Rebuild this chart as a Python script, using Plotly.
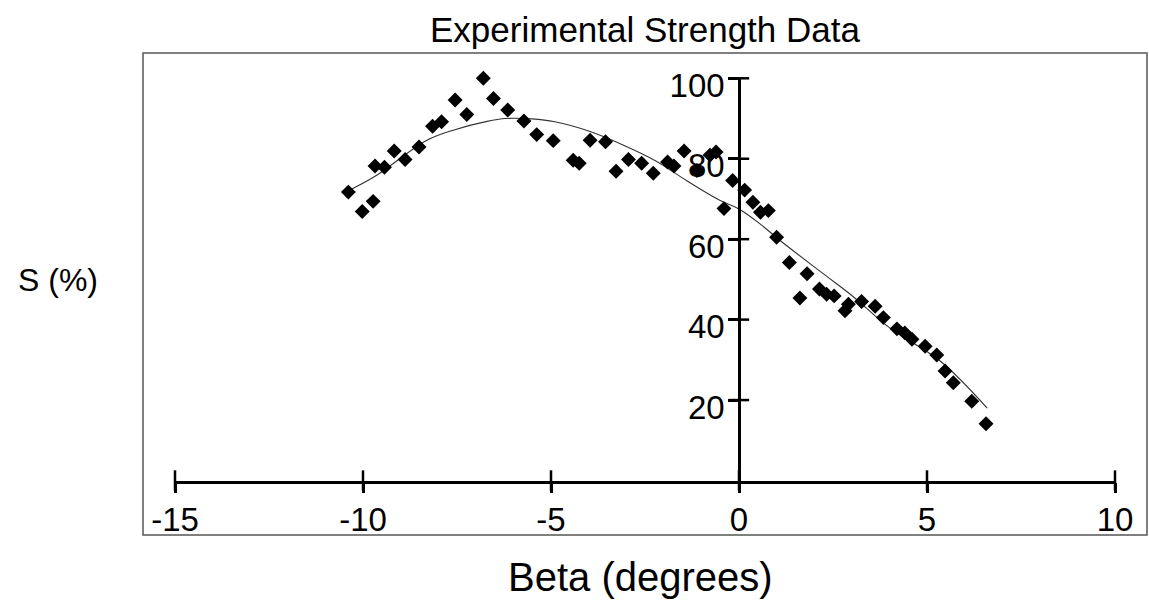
import plotly.graph_objects as go

# ---- data ----
beta = [-10.39, -10.02, -9.73, -9.68, -9.43, -9.17, -8.88, -8.51, -8.15, -7.91,
        -7.55, -7.24, -6.80, -6.53, -6.15, -5.72, -5.38, -4.94, -4.41, -4.25,
        -3.96, -3.55, -3.27, -2.94, -2.59, -2.28, -1.90, -1.73, -1.46, -1.12,
        -0.77, -0.61, -0.40, -0.17, 0.15, 0.37, 0.57, 0.78, 1.00, 1.34,
        1.81, 1.62, 2.14, 2.33, 2.53, 2.82, 2.91, 3.26, 3.62, 3.84,
        4.20, 4.41, 4.60, 4.95, 5.26, 5.48, 5.70, 6.19, 6.57]
strength = [71.7, 66.9, 69.4, 78.2, 77.9, 81.9, 79.8, 82.9, 88.1, 89.2,
            94.6, 91.0, 100.0, 95.0, 92.1, 89.4, 86.0, 84.5, 79.6, 78.9,
            84.6, 84.2, 76.9, 79.8, 78.9, 76.4, 79.2, 78.2, 81.9, 77.1,
            80.9, 81.7, 67.6, 74.6, 72.2, 69.2, 66.7, 67.1, 60.5, 54.2,
            51.4, 45.4, 47.6, 46.3, 45.9, 42.2, 43.8, 44.5, 43.3, 40.5,
            37.7, 36.7, 35.1, 33.4, 31.2, 27.2, 24.3, 19.7, 14.1]

fit_beta = [-10.4, -9.7, -8.3, -7.6, -6.7, -6.2, -5.5, -4.9, -4.0, -3.1,
            -2.2, -1.4, -0.5, 0.0, 0.6, 1.1, 2.3, 3.0, 4.0, 5.35, 6.6]
fit_s = [72.0, 75.5, 84.6, 87.1, 89.3, 90.0, 89.9, 89.2, 86.9, 83.5,
         79.4, 74.6, 69.6, 67.5, 63.5, 59.6, 51.0, 46.0, 38.0, 29.7, 18.0]

x_ticks = [-15, -10, -5, 0, 5, 10]
x_tick_labels = ["-15", "-10", "-5", "0", "5", "10"]
y_ticks = [20, 40, 60, 80, 100]
y_tick_labels = ["20", "40", "60", "80", "100"]
x_range = [-15, 10]
y_range = [0, 100]

title_text = "Experimental Strength Data"
x_title = "Beta (degrees)"
y_title = "S (%)"

# ---- layout geometry (pixels in a 1149x600 page) ----
W, H = 1149, 600
FONT = "Liberation Sans, Arial, sans-serif"
FS = 33

xd = [175 / W, 1115 / W]
yd = [1 - 480.5 / H, 1 - 78.3 / H]
# paper position of beta = 0 along the x domain
ypos = xd[0] + (0 - x_range[0]) / (x_range[1] - x_range[0]) * (xd[1] - xd[0])

fig = go.Figure()
fig.add_trace(go.Scatter(x=fit_beta, y=fit_s, mode="lines",
                         line=dict(color="#333333", width=1.1, shape="spline"),
                         cliponaxis=False, hoverinfo="skip"))
fig.add_trace(go.Scatter(x=beta, y=strength, mode="markers",
                         marker=dict(symbol="diamond", size=11.5, color="black",
                                     line=dict(width=0)),
                         cliponaxis=False))
# crossing tick marks (drawn on the axes at the tick values)
fig.add_trace(go.Scatter(x=x_ticks, y=[0] * len(x_ticks), mode="markers",
                         marker=dict(symbol="line-ns", size=14.5,
                                     line=dict(color="black", width=2.5)),
                         cliponaxis=False, hoverinfo="skip"))
fig.add_trace(go.Scatter(x=[0] * len(y_ticks), y=y_ticks, mode="markers",
                         marker=dict(symbol="line-ew", size=14.5,
                                     line=dict(color="black", width=2.5)),
                         cliponaxis=False, hoverinfo="skip"))

common_tick = dict(ticklen=10, tickwidth=2.5, tickcolor="black",
                   showgrid=False, zeroline=False, automargin=False)

fig.update_layout(
    width=W, height=H,
    margin=dict(l=0, r=0, t=0, b=0, pad=0, autoexpand=False),
    paper_bgcolor="white", plot_bgcolor="white",
    showlegend=False,
    font=dict(family=FONT, size=FS, color="black"),
    title=dict(text=title_text, x=645 / W, y=1 - 30 / H, xanchor="center",
               yanchor="middle", xref="paper", yref="paper", automargin=False,
               font=dict(family=FONT, size=35, color="black")),
    xaxis=dict(domain=xd, range=x_range, anchor="y", tickvals=x_ticks,
               ticktext=x_tick_labels, ticks="outside", showline=True,
               linecolor="black", linewidth=2.5, ticklabelstandoff=-2,
               tickfont=dict(family=FONT, size=FS, color="black"),
               **common_tick),
    yaxis=dict(domain=yd, range=y_range, anchor="free", position=ypos,
               tickvals=y_ticks, ticktext=y_tick_labels, ticks="outside",
               showline=True, linecolor="black", linewidth=2.5,
               ticklabelshift=7, ticklabelstandoff=-3,
               tickfont=dict(family=FONT, size=FS, color="black"),
               **common_tick),
    shapes=[dict(type="rect", xref="paper", yref="paper",
                 x0=143 / W, x1=1147 / W, y0=1 - 535 / H, y1=1 - 53 / H,
                 line=dict(color="#555555", width=1.5), layer="below")],
    annotations=[
        dict(text=y_title, x=58 / W, y=1 - 280 / H, xref="paper", yref="paper",
             xanchor="center", yanchor="middle", showarrow=False,
             font=dict(family=FONT, size=32, color="black")),
        dict(text=x_title, x=640 / W, y=1 - 577 / H, xref="paper", yref="paper",
             xanchor="center", yanchor="middle", showarrow=False,
             font=dict(family=FONT, size=40, color="black")),
    ],
)

fig.write_html("out.html")
